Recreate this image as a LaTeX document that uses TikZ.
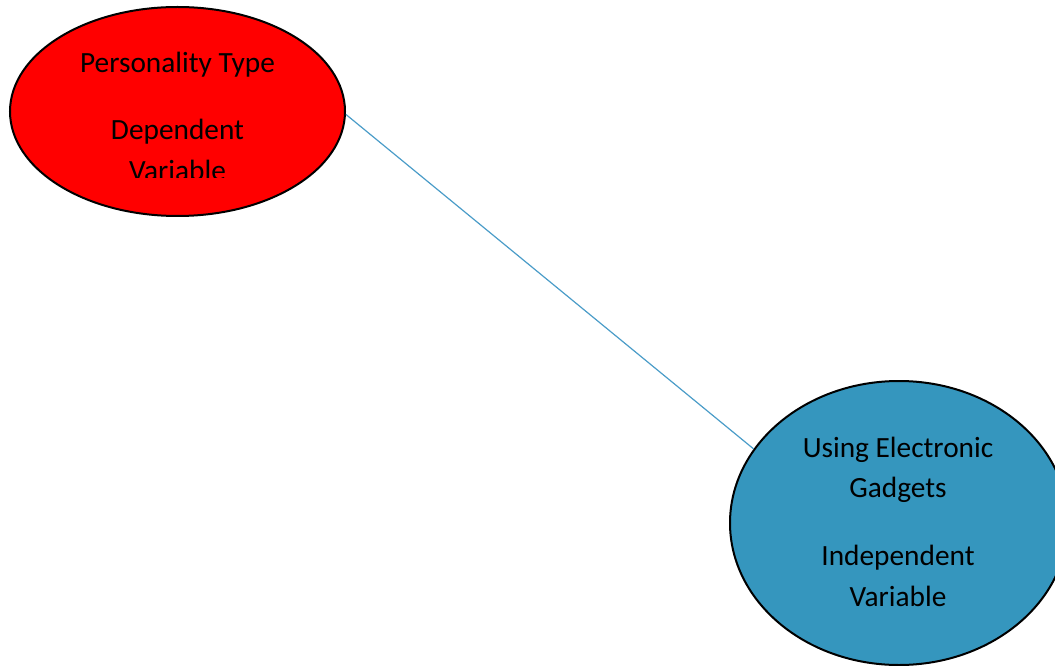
\documentclass[tikz,border=0pt]{standalone}
\usepackage{fontspec}
\setmainfont{Carlito}
\usetikzlibrary{shapes.geometric}
\definecolor{redfill}{HTML}{FF0000}
\definecolor{bluefill}{HTML}{3596BE}
\definecolor{linkcol}{HTML}{4A9CC8}
\begin{document}
\begin{tikzpicture}[x=0.75pt,y=-0.75pt,
  bubble/.style={ellipse,draw=black,line width=1.5pt,inner sep=0pt},
  lbl/.style={anchor=base,inner sep=0pt,font=\fontsize{22}{26}\selectfont},
  link/.style={draw=linkcol,line width=0.9pt}]
\useasboundingbox (0,0) rectangle (1055,666);
\node[bubble,fill=redfill,minimum width=335*0.75pt,minimum height=209*0.75pt] (red) at (177.5,111.5) {};
\node[bubble,fill=bluefill,minimum width=338*0.75pt,minimum height=284*0.75pt] (blue) at (899,523) {};
\draw[link] (red.-1.5) -- (blue.153.4);
\node[lbl] (t1) at (177.5,73) {Personality Type};
\node[lbl] (t2) at (177.5,140) {Dependent};
\begin{scope}
\clip (0,0) rectangle (360,177.5);
\node[lbl] (t3) at (177.5,181) {Variable};
\end{scope}
\node[lbl] (t4) at (898,457) {Using Electronic};
\node[lbl] (t5) at (898,497.5) {Gadgets};
\node[lbl] (t6) at (898,565.5) {Independent};
\node[lbl] (t7) at (898,606) {Variable};
\end{tikzpicture}
\end{document}
